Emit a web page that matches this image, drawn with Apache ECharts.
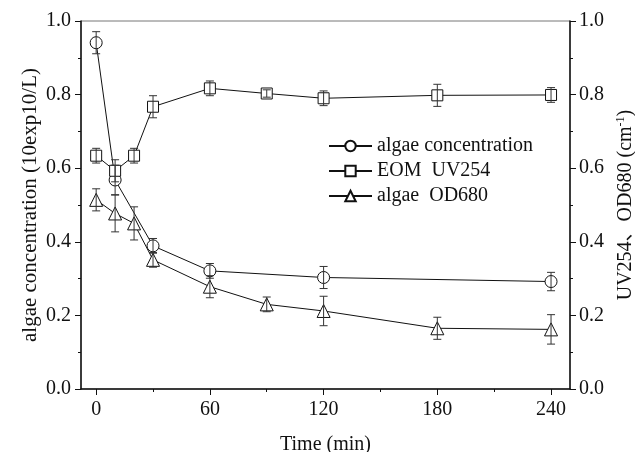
<!DOCTYPE html>
<html>
<head>
    <meta charset="utf-8" />
    <title>algae</title>
    <script src="https://cdn.jsdelivr.net/npm/echarts@6/dist/echarts.min.js"></script>
    <style>
        html, body { margin: 0; padding: 0; background: #fff; }
        #main { width: 635px; height: 452px; }
    </style>
</head>
<body>
<div id="main"></div>
<script type="text/javascript">
    // 数据
    var algaeTime = [0, 10, 30, 60, 120, 240];
    var algaeConc = [0.941, 0.568, 0.389, 0.321, 0.303, 0.292];
    var algaeConcErr = [0.03, 0.04, 0.02, 0.02, 0.03, 0.025];

    var uvTime = [0, 10, 20, 30, 60, 90, 120, 180, 240];
    var uv254 = [0.634, 0.593, 0.634, 0.767, 0.817, 0.803, 0.790, 0.798, 0.799];
    var uv254Err = [0.02, 0.03, 0.02, 0.03, 0.02, 0.01, 0.02, 0.03, 0.02];

    var od680 = [0.514, 0.477, 0.450, 0.351, 0.278, 0.230, 0.212, 0.165, 0.162];
    var od680Err = [0.03, 0.05, 0.045, 0.02, 0.03, 0.02, 0.04, 0.03, 0.04];

    var majorTicks = [0, 60, 120, 180, 240];
    var minorTicks = [30, 90, 150, 210];

    var font = '"Liberation Serif", "Times New Roman", "Noto Sans CJK SC", serif';
    var fs = 20;

    function pairs(xs, ys) {
        var out = [];
        for (var i = 0; i < xs.length; i++) out.push([xs[i], ys[i]]);
        return out;
    }
    function errPairs(xs, ys, es) {
        var out = [];
        for (var i = 0; i < xs.length; i++) out.push([xs[i], ys[i] - es[i], ys[i] + es[i]]);
        return out;
    }

    function renderErr(params, api) {
        var x = api.value(0);
        var lo = api.coord([x, api.value(1)]);
        var hi = api.coord([x, api.value(2)]);
        var w = 4;
        var st = { stroke: '#333', lineWidth: 1 };
        return {
            type: 'group',
            children: [
                { type: 'line', shape: { x1: hi[0], y1: hi[1], x2: lo[0], y2: lo[1] }, style: st },
                { type: 'line', shape: { x1: hi[0] - w, y1: hi[1], x2: hi[0] + w, y2: hi[1] }, style: st },
                { type: 'line', shape: { x1: lo[0] - w, y1: lo[1], x2: lo[0] + w, y2: lo[1] }, style: st }
            ]
        };
    }

    function errSeries(name, xs, ys, es, yIdx) {
        return {
            name: name + '_err',
            type: 'custom',
            xAxisIndex: 0,
            yAxisIndex: yIdx,
            renderItem: renderErr,
            encode: { x: 0, y: [1, 2] },
            data: errPairs(xs, ys, es),
            z: 5,
            silent: true
        };
    }

    function lineSeries(name, xs, ys, symbol, size, yIdx) {
        return {
            name: name,
            type: 'line',
            xAxisIndex: 0,
            yAxisIndex: yIdx,
            data: pairs(xs, ys),
            symbol: symbol,
            symbolSize: size,
            showAllSymbol: true,
            lineStyle: { color: '#111', width: 1 },
            itemStyle: { color: '#fff', borderColor: '#111', borderWidth: 1 },
            z: 3
        };
    }

    var myChart = echarts.init(document.getElementById('main'));
    myChart.setOption({
        animation: false,
        backgroundColor: '#fff',
        textStyle: { fontFamily: font, color: '#111' },
        grid: {
            left: 81, right: 65, top: 21, bottom: 63,
            outerBoundsMode: 'none',
            containLabel: false,
            show: true, borderColor: '#777', borderWidth: 1
        },
        legend: {
            orient: 'vertical',
            left: 323,
            top: 131,
            itemWidth: 43,
            itemHeight: 13,
            itemGap: 5,
            data: ['algae concentration', 'EOM  UV254', 'algae  OD680'],
            textStyle: { fontFamily: font, fontSize: fs, color: '#111' }
        },
        xAxis: [{
            type: 'value',
            min: -8,
            max: 250,
            name: 'Time (min)',
            nameLocation: 'middle',
            nameGap: 46,
            nameMoveOverlap: false,
            nameTextStyle: { fontFamily: font, fontSize: fs, color: '#111' },
            axisLine: { onZero: false, lineStyle: { color: '#111', width: 1.5 } },
            axisTick: { customValues: majorTicks, length: 6, lineStyle: { color: '#111' } },
            axisLabel: { customValues: majorTicks, fontFamily: font, fontSize: fs, color: '#111', margin: 11 },
            splitLine: { show: false }
        }, {
            type: 'value',
            position: 'bottom',
            min: -8,
            max: 250,
            axisLine: { show: false, onZero: false },
            axisTick: { customValues: minorTicks, length: 3, lineStyle: { color: '#111' } },
            axisLabel: { show: false },
            splitLine: { show: false }
        }],
        yAxis: [{
            type: 'value',
            position: 'left',
            min: 0,
            max: 1,
            interval: 0.2,
            name: 'algae concentration (10exp10/L)',
            nameLocation: 'middle',
            nameRotate: 90,
            nameGap: 40,
            nameMoveOverlap: false,
            nameTextStyle: { fontFamily: font, fontSize: 21, color: '#111' },
            axisLine: { show: true, onZero: false, lineStyle: { color: '#111', width: 1.5 } },
            axisTick: { show: true, length: 6, lineStyle: { color: '#111' } },
            minorTick: { show: true, splitNumber: 2, length: 3, lineStyle: { color: '#111' } },
            axisLabel: {
                fontFamily: font, fontSize: fs, color: '#111', margin: 10,
                formatter: function (v) { return v.toFixed(1); }
            },
            splitLine: { show: false }
        }, {
            type: 'value',
            position: 'right',
            min: 0,
            max: 1,
            interval: 0.2,
            name: 'UV254、OD680 (cm{sup|-1})',
            nameLocation: 'middle',
            nameRotate: 90,
            nameGap: 42,
            nameTextStyle: {
                fontFamily: font, fontSize: fs, color: '#111',
                rich: { sup: { fontFamily: font, fontSize: 12, color: '#111', padding: [0, 0, 9, 0] } }
            },
            axisLine: { show: true, onZero: false, lineStyle: { color: '#111', width: 1.5 } },
            axisTick: { show: true, length: 6, lineStyle: { color: '#111' } },
            minorTick: { show: true, splitNumber: 2, length: 3, lineStyle: { color: '#111' } },
            axisLabel: {
                fontFamily: font, fontSize: fs, color: '#111', margin: 9,
                formatter: function (v) { return v.toFixed(1); }
            },
            splitLine: { show: false }
        }],
        series: [
            lineSeries('algae concentration', algaeTime, algaeConc, 'circle', 12, 0),
            lineSeries('EOM  UV254', uvTime, uv254, 'rect', 11, 1),
            lineSeries('algae  OD680', uvTime, od680, 'triangle', 13, 1),
            errSeries('algae concentration', algaeTime, algaeConc, algaeConcErr, 0),
            errSeries('EOM  UV254', uvTime, uv254, uv254Err, 1),
            errSeries('algae  OD680', uvTime, od680, od680Err, 1)
        ]
    });
</script>
</body>
</html>
